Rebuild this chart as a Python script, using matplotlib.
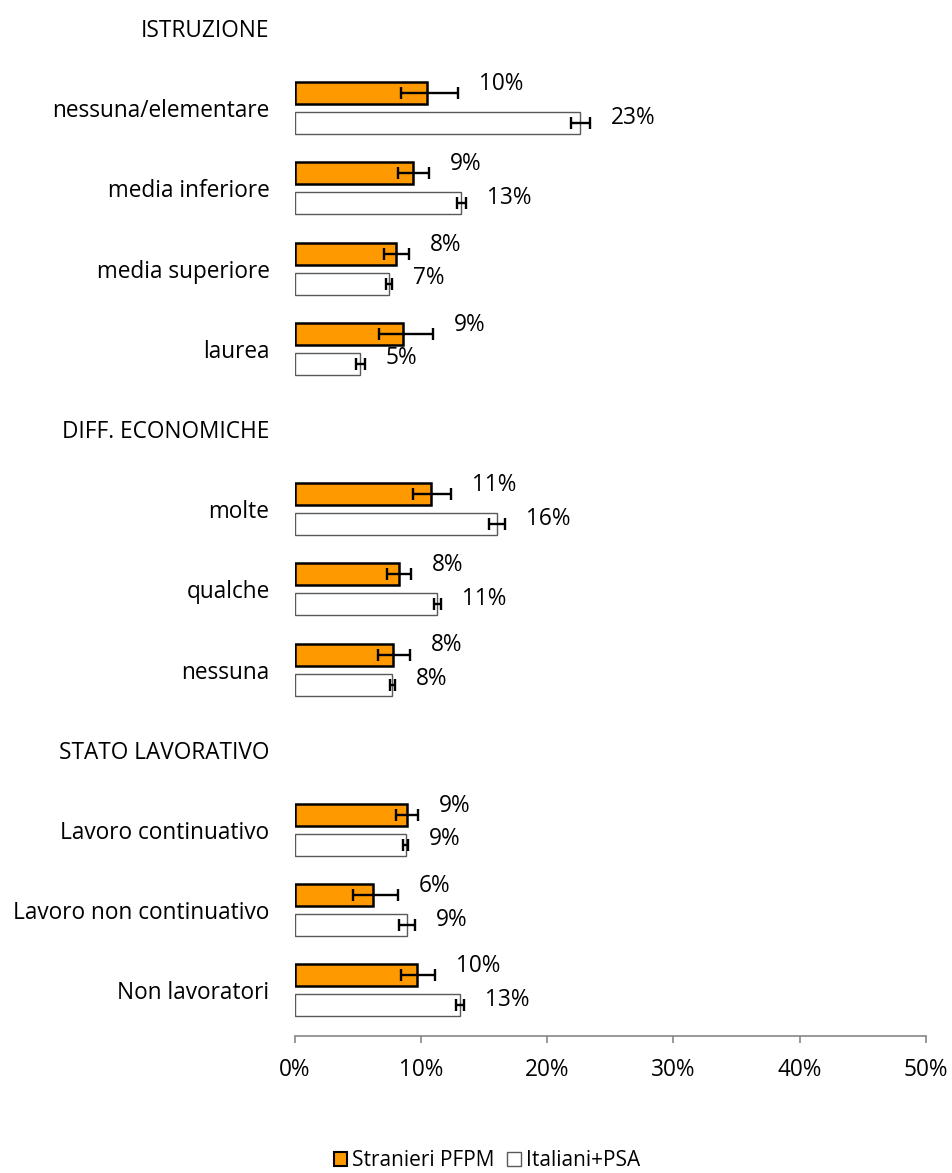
import numpy as np
import matplotlib
matplotlib.use("Agg")
import matplotlib.pyplot as plt
from matplotlib.patches import Patch

# category rows, headers have no bars
rows = ["ISTRUZIONE", "nessuna/elementare", "media inferiore", "media superiore", "laurea",
        "DIFF. ECONOMICHE", "molte", "qualche", "nessuna",
        "STATO LAVORATIVO", "Lavoro continuativo", "Lavoro non continuativo", "Non lavoratori"]
headers = ["ISTRUZIONE", "DIFF. ECONOMICHE", "STATO LAVORATIVO"]

series_names = ["Stranieri PFPM", "Italiani+PSA"]

# values in %, one per non-header row
stranieri = [10.47, 9.38, 8.01, 8.62, 10.81, 8.25, 7.83, 8.88, 6.24, 9.70]
stranieri_low = [8.41, 8.22, 7.09, 6.69, 9.41, 7.32, 6.59, 8.01, 4.66, 8.41]
stranieri_high = [12.95, 10.62, 9.04, 10.99, 12.37, 9.25, 9.15, 9.78, 8.19, 11.15]
stranieri_labels = ["10%", "9%", "8%", "9%", "11%", "8%", "8%", "9%", "6%", "10%"]

italiani = [22.63, 13.21, 7.48, 5.21, 16.06, 11.31, 7.75, 8.80, 8.88, 13.10]
italiani_low = [21.87, 12.84, 7.24, 4.89, 15.40, 11.05, 7.54, 8.62, 8.27, 12.77]
italiani_high = [23.42, 13.58, 7.72, 5.56, 16.67, 11.62, 7.93, 9.01, 9.54, 13.42]
italiani_labels = ["23%", "13%", "7%", "5%", "16%", "11%", "8%", "9%", "9%", "13%"]

x_ticks = [0, 10, 20, 30, 40, 50]

plt.rcParams['font.family'] = ['Open Sans', 'DejaVu Sans']
FS = 16.3

fig = plt.figure(figsize=(9.52, 11.73), dpi=100)
ax = fig.add_axes([294.5 / 952, 1 - 1036 / 1173, (926 - 294.5) / 952, 1036 / 1173])

y_all = np.arange(len(rows))
y_bars = np.array([i for i, r in enumerate(rows) if r not in headers])

bh = 0.274
off = 0.1875
orange = "#FF9900"

def draw_series(vals, low, high, labels, dy, face, edge, lw, label_dy):
    vals = np.array(vals)
    err = [vals - np.array(low), np.array(high) - vals]
    ax.barh(y_bars + dy, vals, height=bh, color=face, edgecolor=edge, linewidth=lw, zorder=2)
    ax.errorbar(vals, y_bars + dy, xerr=err, fmt='none', ecolor='black',
                elinewidth=1.7, capsize=4.5, capthick=1.7, zorder=3)
    for yy, hi, lab in zip(y_bars + dy, high, labels):
        ax.annotate(lab, xy=(hi, yy), xytext=(15, label_dy), textcoords='offset points',
                    ha='left', va='center', fontsize=FS, color='black')

draw_series(stranieri, stranieri_low, stranieri_high, stranieri_labels, -off,
            orange, 'black', 1.8, 6.5)
draw_series(italiani, italiani_low, italiani_high, italiani_labels, off,
            'white', '#595959', 1.0, 4)

ax.set_xlim(0, 50)
ax.set_ylim(12.57, -0.35)
ax.set_yticks(y_all)
ax.set_yticklabels(rows, fontsize=FS)
ax.tick_params(axis='y', length=0, pad=18)
ax.set_xticks(x_ticks)
ax.set_xticklabels([f"{t}%" for t in x_ticks], fontsize=FS)
ax.tick_params(axis='x', length=5, width=1.2, color='#868686', pad=11)
for s in ['top', 'right', 'left']:
    ax.spines[s].set_visible(False)
ax.spines['bottom'].set_color('#868686')
ax.spines['bottom'].set_linewidth(1.2)
ax.patch.set_alpha(0)

handles = [Patch(facecolor=orange, edgecolor='black', linewidth=1.5),
           Patch(facecolor='white', edgecolor='#595959', linewidth=1.0)]
fig.legend(handles, series_names, loc='center', bbox_to_anchor=(487 / 952, 1 - 1161 / 1173),
           ncol=2, frameon=False, fontsize=15, handlelength=0.65, handleheight=0.65,
           handletextpad=0.25, columnspacing=0.6)

fig.savefig("out.png", dpi=100)
